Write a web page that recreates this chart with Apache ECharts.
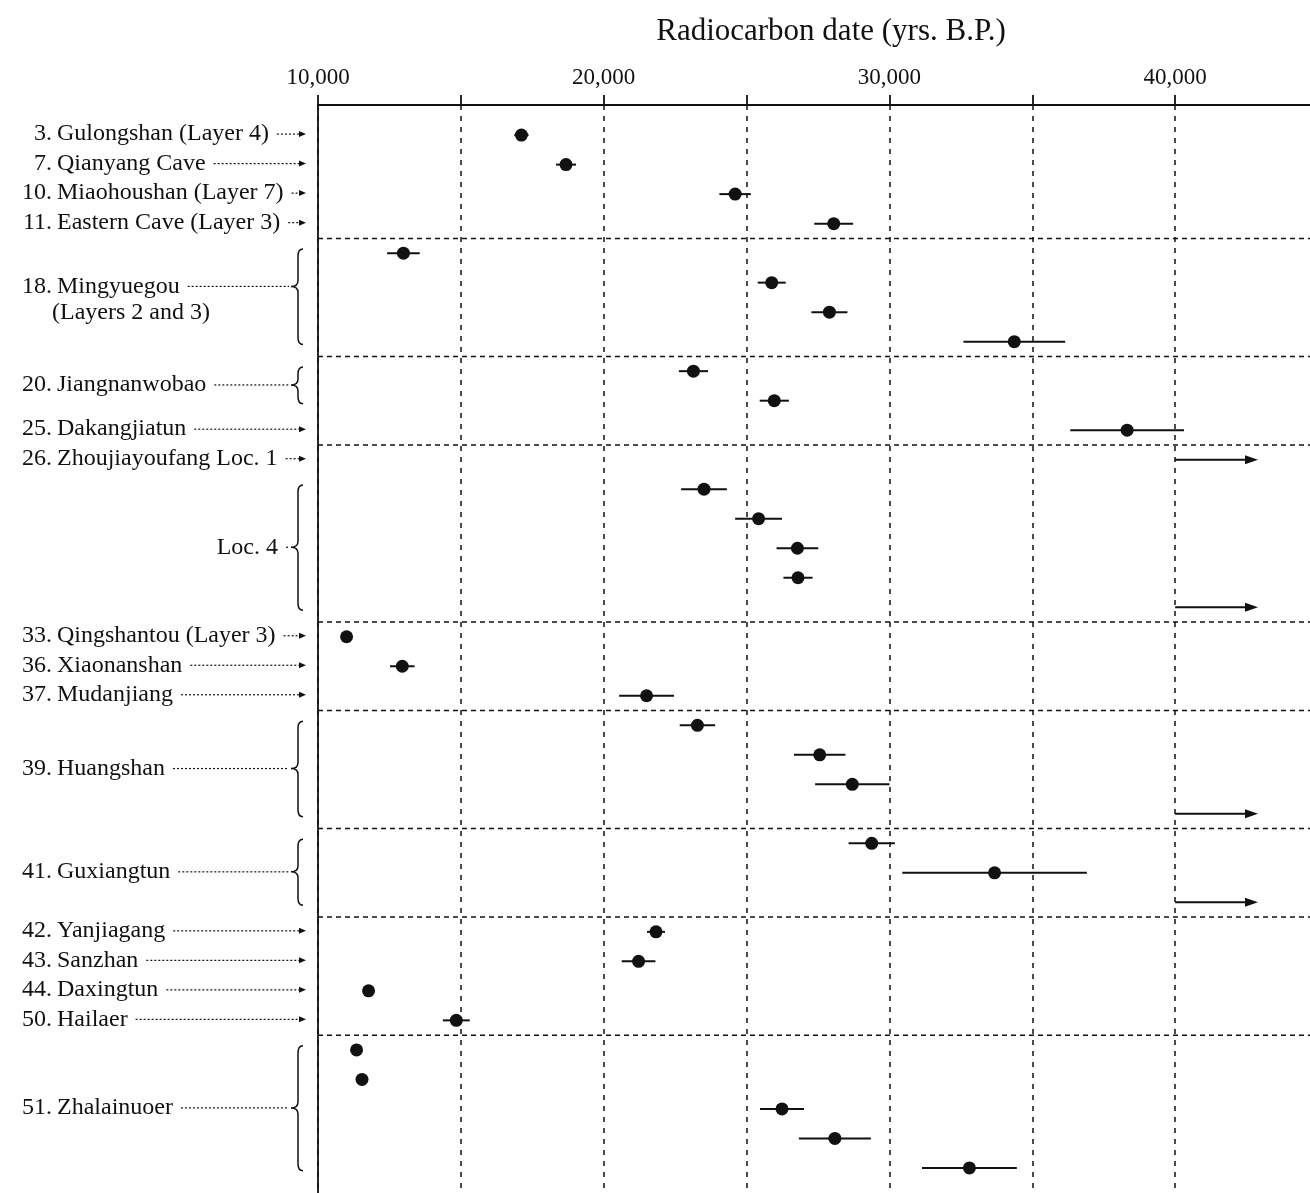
<!DOCTYPE html>
<html><head><meta charset="utf-8">
<script src="https://cdn.jsdelivr.net/npm/echarts@6/dist/echarts.min.js"></script>
<style>html,body{margin:0;padding:0;background:#fff;overflow:hidden}#chart{width:1321px;height:1193px}</style>
</head><body><div id="chart"></div>
<script>
// ---------- data ----------
const axisTitle = 'Radiocarbon date (yrs. B.P.)';
const tickLabelValues = [10000, 20000, 30000, 40000];
const xMin = 10000, xMax = 45000, xStep = 5000;
const openArrowEnd = 42900; // dates given as ">40,000"

// one entry per plotted date (row index = position from the top)
const rowDates  = [17120, 18680, 24600, 28050, 12990, 25880, 27900, 34370, 23140, 25970, 38320, 40000,
                   23510, 25420, 26780, 26800, 40000, 11000, 12950, 21500, 23280, 27560, 28700, 40000,
                   29380, 33680, 40000, 21830, 21220, 11770, 14840, 11350, 11540, 26240, 28090, 32800];
const rowErrors = [250, 350, 550, 680, 570, 490, 630, 1780, 510, 510, 1990, 0,
                   800, 820, 730, 510, 0, 150, 430, 960, 620, 900, 1300, 0,
                   810, 3230, 0, 315, 590, 150, 470, 150, 200, 770, 1260, 1660];
const rowOpen   = [0,0,0,0,0,0,0,0,0,0,0,1, 0,0,0,0,1,0,0,0,0,0,0,1, 0,0,1,0,0,0,0,0,0,0,0,0];

// site labels
const groupNumbers = ['3.', '7.', '10.', '11.', '18.', '20.', '25.', '26.', '', '33.', '36.', '37.', '39.', '41.', '42.', '43.', '44.', '50.', '51.'];
const groupNames   = ['Gulongshan (Layer 4)', 'Qianyang Cave', 'Miaohoushan (Layer 7)', 'Eastern Cave (Layer 3)',
                      'Mingyuegou\n(Layers 2 and 3)', 'Jiangnanwobao', 'Dakangjiatun', 'Zhoujiayoufang Loc. 1', 'Loc. 4',
                      'Qingshantou (Layer 3)', 'Xiaonanshan', 'Mudanjiang', 'Huangshan', 'Guxiangtun',
                      'Yanjiagang', 'Sanzhan', 'Daxingtun', 'Hailaer', 'Zhalainuoer'];
const groupFirstRow = [0, 1, 2, 3, 4, 8, 10, 11, 12, 17, 18, 19, 20, 24, 27, 28, 29, 30, 31];
const groupLastRow  = [0, 1, 2, 3, 7, 9, 10, 11, 16, 17, 18, 19, 23, 26, 27, 28, 29, 30, 35];

// dashed separators drawn below these rows
const separatorAfterRows = [3, 7, 10, 16, 19, 23, 26, 30];

// ---------- chart ----------
const FONT = '"Liberation Serif", "Times New Roman", serif';
const LABEL_SIZE = 24;
const measureCtx = document.createElement('canvas').getContext('2d');
measureCtx.font = LABEL_SIZE + 'px ' + FONT;
const textW = t => measureCtx.measureText(t).width;

const chart = echarts.init(document.getElementById('chart'), null, {renderer: 'canvas'});

const pointData = rowDates.map((d, i) => [d, i, rowErrors[i], rowOpen[i]]);
const sepData = separatorAfterRows.map(r => [xMin, r + 0.5]);
const groupData = groupNames.map((n, i) => [xMin, (groupFirstRow[i] + groupLastRow[i]) / 2, i]);

function textEl(text, x, y, align) {
  return {
    type: 'text',
    style: {text, x, y, font: LABEL_SIZE + 'px ' + FONT, fill: '#111',
            align, verticalAlign: 'middle', textAlign: align, textVerticalAlign: 'middle'}
  };
}
function leader(x1, x2, y) {
  return {type: 'line', shape: {x1, y1: y, x2, y2: y},
          style: {stroke: '#111', lineWidth: 1.2, lineDash: [2, 2]}};
}
function arrowHead(x, y, len, half) {
  return {type: 'polygon', shape: {points: [[x, y], [x - len, y - half], [x - len, y + half]]},
          style: {fill: '#111'}};
}

const option = {
  backgroundColor: '#fff',
  animation: false,
  title: {
    text: axisTitle, left: 826, top: 11, textAlign: 'center',
    textStyle: {fontFamily: FONT, fontSize: 31, fontWeight: 'normal', color: '#111'}
  },
  grid: {left: 318, right: 0, top: 105, bottom: 0, containLabel: false},
  xAxis: {
    type: 'value', position: 'top', min: xMin, max: xMax, interval: xStep,
    axisLine: {show: true, onZero: false, lineStyle: {color: '#111', width: 1.8}},
    axisTick: {show: true, inside: false, length: 10, lineStyle: {color: '#111', width: 1.8}},
    axisLabel: {
      margin: 16, color: '#111', fontFamily: FONT, fontSize: 23,
      formatter: v => tickLabelValues.includes(v) ? v.toLocaleString('en-US') : ''
    },
    splitLine: {show: true, lineStyle: {color: '#111', width: 1.5, type: [5, 6]}}
  },
  yAxis: {
    type: 'value', inverse: true, min: -1.02, max: 35.85,
    axisLine: {show: true, onZero: false, lineStyle: {color: '#111', width: 1.8}},
    axisTick: {show: false}, axisLabel: {show: false}, splitLine: {show: false}
  },
  series: [
    {
      type: 'custom', name: 'separators', data: sepData, clip: true, z: 2,
      renderItem: (params, api) => {
        const y = api.value(1);
        const p1 = api.coord([xMin, y]), p2 = api.coord([xMax, y]);
        return {type: 'line', shape: {x1: p1[0], y1: p1[1], x2: p2[0], y2: p2[1]},
                style: {stroke: '#111', lineWidth: 1.5, lineDash: [5, 4]}};
      }
    },
    {
      type: 'custom', name: 'dates', data: pointData, clip: false, z: 5,
      renderItem: (params, api) => {
        const d = api.value(0), row = api.value(1), err = api.value(2), open = api.value(3);
        if (open) {
          const a = api.coord([d, row]), b = api.coord([openArrowEnd, row]);
          return {type: 'group', children: [
            {type: 'line', shape: {x1: a[0], y1: a[1], x2: b[0] - 8, y2: b[1]}, style: {stroke: '#111', lineWidth: 2}},
            arrowHead(b[0], b[1], 13, 4.5)
          ]};
        }
        const c = api.coord([d, row]);
        const l = api.coord([d - err, row]), r = api.coord([d + err, row]);
        return {type: 'group', children: [
          {type: 'line', shape: {x1: l[0], y1: l[1], x2: r[0], y2: r[1]}, style: {stroke: '#111', lineWidth: 2}},
          {type: 'circle', shape: {cx: c[0], cy: c[1], r: 6.5}, style: {fill: '#111'}}
        ]};
      }
    },
    {
      type: 'custom', name: 'labels', data: groupData, clip: false, z: 5,
      renderItem: (params, api) => {
        const i = api.value(2);
        const first = groupFirstRow[i], last = groupLastRow[i];
        const left = api.coord([xMin, 0])[0];
        const yMid = api.coord([xMin, (first + last) / 2])[1] - 1;
        const num = groupNumbers[i];
        const lines = groupNames[i].split('\n');
        const numRight = 52, nameLeft = 57;
        const children = [];
        const lineY = lines.length > 1 ? yMid - 10 : yMid;
        let textEnd;
        if (num) {
          children.push(textEl(num, numRight, lineY, 'right'));
          children.push(textEl(lines[0], nameLeft, lineY, 'left'));
          textEnd = nameLeft + textW(lines[0]);
          if (lines.length > 1) children.push(textEl(lines[1], nameLeft - 5, yMid + 16, 'left'));
        } else {
          const right = left - 40;
          children.push(textEl(lines[0], right, lineY, 'right'));
          textEnd = right;
        }
        if (first === last) {
          const tip = left - 12;
          children.push(leader(textEnd + 8, tip - 6, lineY));
          children.push(arrowHead(tip, lineY, 7, 3));
        } else {
          const bx = left - 20, tx = left - 27;
          const yT = api.coord([xMin, first - 0.14])[1];
          const yB = api.coord([xMin, last + 0.1])[1];
          const ty = lineY;
          children.push({
            type: 'path',
            shape: {pathData:
              `M${bx + 5},${yT} Q${bx},${yT} ${bx},${yT + 7} L${bx},${ty - 6} Q${bx},${ty} ${tx},${ty} ` +
              `Q${bx},${ty} ${bx},${ty + 6} L${bx},${yB - 7} Q${bx},${yB} ${bx + 5},${yB}`},
            style: {stroke: '#111', lineWidth: 1.5, fill: null}
          });
          children.push(leader(textEnd + 8, tx - 2, ty));
        }
        return {type: 'group', children};
      }
    }
  ]
};
chart.setOption(option);
</script>
</body></html>
